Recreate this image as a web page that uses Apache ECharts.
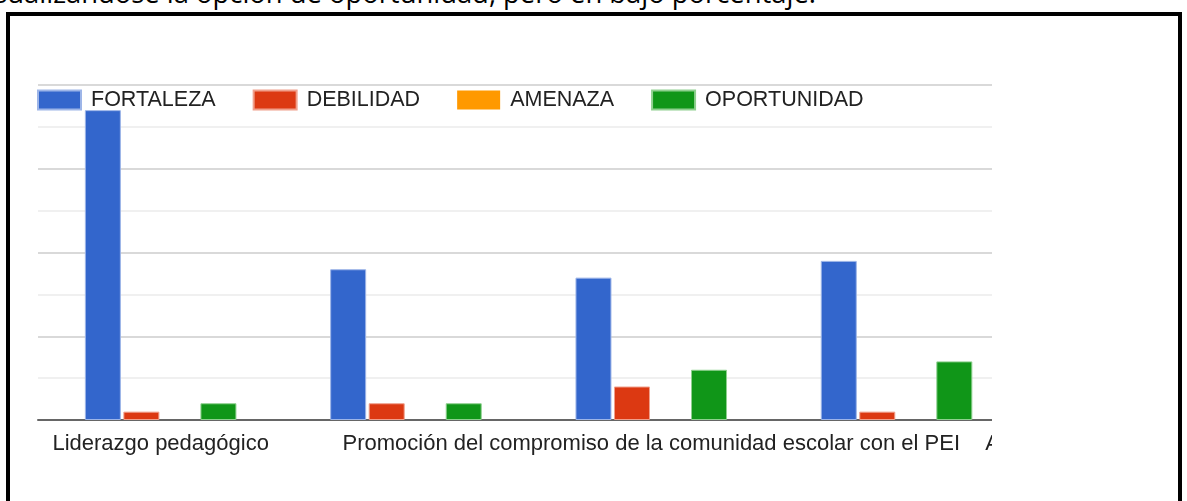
<!DOCTYPE html>
<html>
<head>
<meta charset="utf-8">
<script src="https://cdn.jsdelivr.net/npm/echarts@6/dist/echarts.min.js"></script>
<style>
    html, body { margin: 0; padding: 0; background: #fff; overflow: hidden; }
    #page { position: relative; width: 1187px; height: 501px; overflow: hidden; }
    #texto { position: absolute; right: 371px; top: -21px; line-height: 27px; font-family: "Open Sans", sans-serif; font-size: 27.4px; color: #000; white-space: nowrap; }
    #marco { position: absolute; left: 6px; top: 12px; width: 1168px; height: 600px; border: 4px solid #000; }
    #recorte { position: absolute; left: 0; top: 0; width: 992px; height: 501px; overflow: hidden; }
    #container_one { position: absolute; left: 0; top: 0; width: 1320px; height: 501px; }
</style>
</head>
<body>
<div id="page">
    <div id="texto">visualizándose la opción de oportunidad, pero en bajo porcentaje.</div>
    <div id="marco"></div>
    <div id="recorte"><div id="container_one"></div></div>
</div>
<script>
// datos del gráfico
var categorias = ['Liderazgo pedagógico', 'Gestión de la convivencia escolar', 'Promoción del compromiso de la comunidad escolar con el PEI', 'Desarrollo de capacidades profesionales', 'Articulación con redes de apoyo'];
var fortaleza = [37, 18, 17, 19, 18];
var debilidad = [1, 2, 4, 1, 2];
var amenaza = [0, 0, 0, 0, 0];
var oportunidad = [2, 2, 6, 7, 5];

var dom = document.getElementById("container_one");
var myChart = echarts.init(dom);
var fuente = 'Arial, "Liberation Sans", sans-serif';

function serie(nombre, datos, borde) {
    return {
        name: nombre,
        type: 'bar',
        barWidth: 36,
        barGap: '7%',
        data: datos,
        itemStyle: { borderColor: borde, borderWidth: borde ? 1 : 0 }
    };
}

option = {
    animation: false,
    color: ['#3366cc', '#dc3912', '#ff9900', '#109618'],
    legend: {
        left: 32,
        top: 84,
        itemWidth: 43,
        itemHeight: 19,
        itemGap: 37,
        icon: 'rect',
        textStyle: { fontFamily: fuente, fontSize: 21.5, color: '#222', padding: [0, 0, 0, 5] },
        data: ['FORTALEZA', 'DEBILIDAD', 'AMENAZA', 'OPORTUNIDAD']
    },
    grid: {
        left: 38,
        top: 85,
        width: 1226.5,
        height: 335
    },
    xAxis: {
        type: 'category',
        data: categorias,
        axisTick: { show: false },
        axisLine: { lineStyle: { color: '#666', width: 2 } },
        axisLabel: { interval: 1, margin: 13, fontFamily: fuente, fontSize: 22, color: '#222' }
    },
    yAxis: {
        type: 'value',
        min: 0,
        max: 40,
        interval: 5,
        axisLabel: { show: false },
        axisLine: { show: false },
        axisTick: { show: false },
        splitLine: { lineStyle: { color: ['#cccccc', '#ebebeb'], width: 1.5 } }
    },
    series: [
        serie('FORTALEZA', fortaleza, '#9db5e8'),
        serie('DEBILIDAD', debilidad, '#f0a08c'),
        serie('AMENAZA', amenaza, null),
        serie('OPORTUNIDAD', oportunidad, '#8fd08f')
    ]
};
if (option && typeof option === "object") {
    myChart.setOption(option, true);
}
</script>
</body>
</html>
